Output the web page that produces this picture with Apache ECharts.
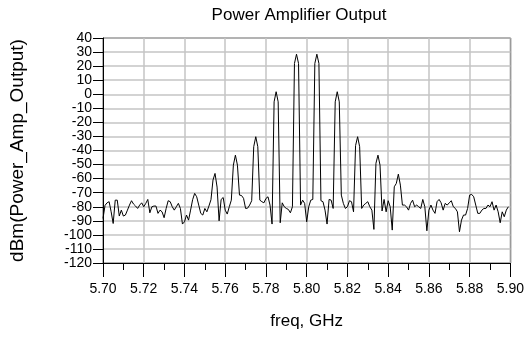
<!DOCTYPE html>
<html>
<head>
<meta charset="utf-8">
<script src="https://cdn.jsdelivr.net/npm/echarts@6/dist/echarts.min.js"></script>
<style>html,body{margin:0;padding:0;background:#fff}#c{width:527px;height:337px}</style>
</head>
<body>
<div id="c"></div>
<script>
const freqStart = 5.700;   // GHz, first sample
const freqStep = 0.001;    // GHz, sample spacing
const powerDbm = [
 -88.3,-79,-77.2,-76.4,-83.6,-91.9,-75.3,-75.3,-86.6,-82.4,
 -86.6,-85.9,-82.4,-78.8,-75.7,-78.1,-79.5,-81.2,-78.8,-77.2,
 -80,-77.6,-74.8,-84.3,-80,-79.5,-79.5,-84.7,-82.4,-83.6,
 -87.8,-81.2,-75.7,-76.4,-80,-82.4,-80,-77.6,-81.2,-92.3,
 -90.7,-85.9,-89.5,-82.4,-75,-70.5,-72.9,-78.8,-84.7,-85.9,
 -81.2,-83.6,-79.5,-75,-61,-56.3,-66,-90,-74.8,-73.4,
 -82.4,-85.2,-80,-75.3,-50.4,-43.3,-50.4,-71.7,-72,-74,
 -81.2,-81,-78.8,-75.7,-37.3,-30.2,-37.3,-75.3,-76.4,-77.2,
 -74.1,-72.9,-78.8,-92.3,-5.4,1.8,-5.4,-91.4,-77.2,-80,
 -81.2,-81.9,-84.3,-80,21.9,28.5,21.9,-78.8,-75.3,-77.6,
 -90.7,-80,-75.3,-74.8,21.9,28.5,21.9,-75.7,-76.4,-82.4,
 -92.3,-74.8,-75.3,-81.2,-5.4,1.8,-5.4,-71.7,-77.6,-81.2,
 -80,-75.7,-76.4,-83.6,-36.5,-30.2,-37.3,-81.2,-78.8,-77.6,
 -76.4,-80,-82.4,-96.1,-49.1,-43.3,-50.4,-83,-74.8,-83.6,
 -75.7,-80,-96.6,-65.8,-63.4,-56.8,-64.6,-78.8,-78.8,-80,
 -82.4,-77.6,-75.3,-80,-78.8,-80,-81.2,-74.8,-80,-97.1,
 -82.4,-78.8,-82.4,-84.7,-76.4,-74.8,-77.2,-82.4,-77.6,-78.8,
 -77.2,-75.7,-80,-81.2,-83.6,-97.8,-89.5,-85.9,-85.9,-81.2,
 -71.7,-71.2,-72.9,-78.8,-84.7,-84.7,-82.4,-81.2,-81.2,-78.8,
 -80,-76.4,-82.4,-78.8,-83.6,-91.4,-83.6,-87.1,-82.4,-80
];
const xMin = 5.70, xMax = 5.90, xInterval = 0.02;
const yMin = -120, yMax = 40, yInterval = 10;

const seriesData = powerDbm.map((v, i) => [+(freqStart + i * freqStep).toFixed(3), v]);

const font = 'Liberation Sans, Arial, sans-serif';
const chart = echarts.init(document.getElementById('c'), null, {renderer: 'canvas'});
chart.setOption({
  animation: false,
  backgroundColor: '#fff',
  title: {
    text: 'Power Amplifier Output',
    left: 294, top: 2, textAlign: 'center',
    textStyle: {fontFamily: font, fontSize: 17, fontWeight: 'normal', color: '#000'}
  },
  grid: {left: 89.5, right: 15.5, top: 38, bottom: 74, show: true,
         borderColor: '#000', borderWidth: 1, backgroundColor: 'transparent'},
  xAxis: {
    type: 'value', min: xMin, max: xMax, interval: xInterval,
    name: 'freq, GHz', nameLocation: 'middle', nameGap: 50,
    nameTextStyle: {fontFamily: font, fontSize: 17, color: '#000'},
    axisLine: {show: true, onZero: false, lineStyle: {color: '#000', width: 1}},
    axisTick: {show: true, inside: false, length: 14, lineStyle: {color: '#000', width: 1}},
    minorTick: {show: true, splitNumber: 2, length: 7, lineStyle: {color: '#000', width: 1}},
    axisLabel: {margin: 19, fontFamily: font, fontSize: 14, color: '#000',
                formatter: v => v.toFixed(2)},
    splitLine: {show: true, lineStyle: {color: '#c4c4c4', width: 1.5}}
  },
  yAxis: {
    type: 'value', min: yMin, max: yMax, interval: yInterval,
    name: 'dBm(Power_Amp_Output)', nameLocation: 'middle', nameGap: 76, nameRotate: 90,
    nameTextStyle: {fontFamily: font, fontSize: 19, color: '#000'},
    axisLine: {show: true, onZero: false, lineStyle: {color: '#000', width: 1}},
    axisTick: {show: true, inside: false, length: 10, lineStyle: {color: '#000', width: 1}},
    axisLabel: {margin: 11, fontFamily: font, fontSize: 14, color: '#000'},
    splitLine: {show: true, lineStyle: {color: '#c4c4c4', width: 1.5}}
  },
  series: [{
    type: 'line', data: seriesData, showSymbol: false, smooth: false,
    lineStyle: {color: '#000', width: 1}, z: 5
  }]
});
</script>
</body>
</html>
